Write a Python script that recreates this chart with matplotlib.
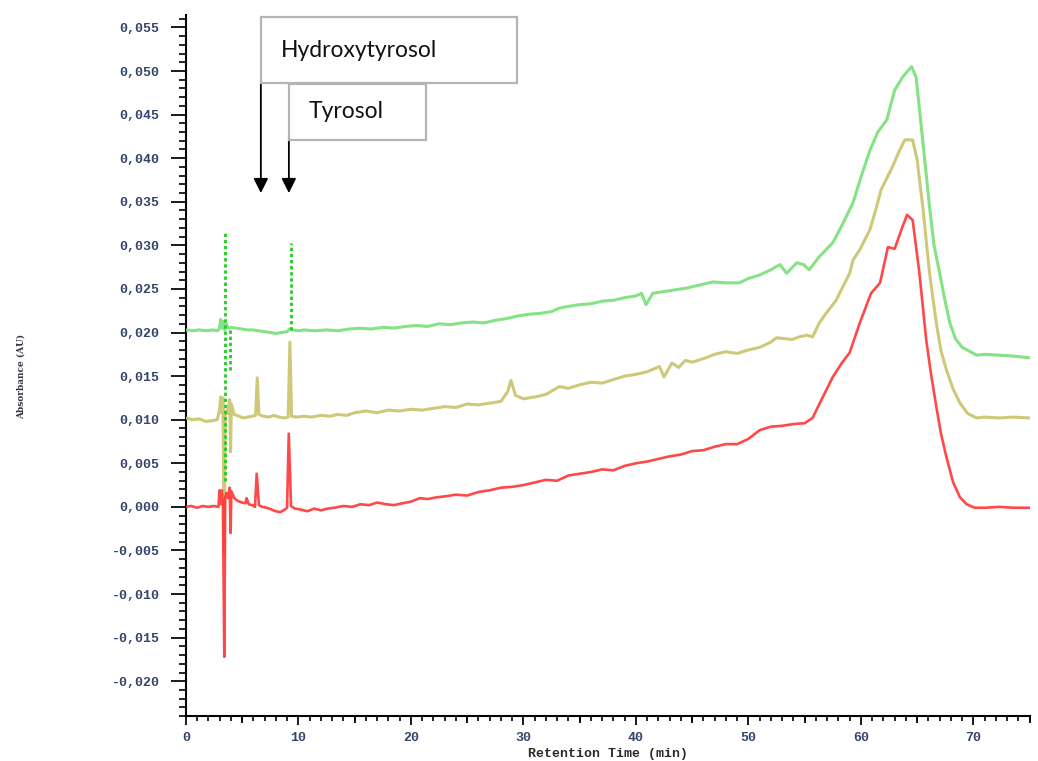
import matplotlib
matplotlib.use('Agg')
import matplotlib.pyplot as plt
from matplotlib.patches import Rectangle
from matplotlib.ticker import MultipleLocator, FuncFormatter

# chromatogram traces: retention time (min) and absorbance (AU)
red_x = [0.0, 0.5, 1.0, 1.5, 2.0, 2.5, 2.9, 3.0, 3.1, 3.2, 3.3, 3.42, 3.5, 3.6, 3.75, 3.9, 3.98, 4.05,
         4.3, 4.6, 5.0, 5.3, 5.4, 5.6, 5.9, 6.15, 6.3, 6.5, 6.8, 7.2, 7.6, 8.0, 8.4, 8.8, 9.0, 9.15, 9.35,
         9.7, 10.2, 10.8, 11.4, 12.0, 12.6, 13.2, 14.0, 14.8, 15.5, 16.3, 17.0, 17.8, 18.5, 19.2, 20.0,
         20.8, 21.5, 22.3, 23.0, 24.0, 25.0, 26.0, 27.0, 28.0, 29.0, 30.0, 31.0, 32.0, 33.0, 34.0, 35.0,
         36.0, 37.0, 38.0, 39.0, 40.0, 41.0, 42.0, 43.0, 44.0, 45.0, 46.0, 47.0, 48.0, 49.0, 50.0, 51.0,
         52.0, 53.0, 54.0, 55.0, 55.7, 56.5, 57.5, 58.3, 59.0, 59.9, 60.9, 61.7, 62.4, 63.0, 63.6, 64.1,
         64.6, 65.2, 65.8, 66.2, 66.7, 67.1, 67.6, 68.2, 68.8, 69.4, 70.1, 71.0, 72.3, 73.5, 75.0]
red_y = [0.0000, 0.0001, -0.0001, 0.0001, 0.0000, 0.0001, 0.0000, 0.0019, 0.0003, 0.0019, 0.0002,
         -0.0172, 0.0010, 0.0016, 0.0010, 0.0022, -0.0030, 0.0018, 0.0010, 0.0007, 0.0005, 0.0004,
         0.0010, 0.0003, 0.0002, 0.0000, 0.0038, 0.0002, 0.0000, -0.0001, -0.0003, -0.0005, -0.0006,
         -0.0003, -0.0001, 0.0084, 0.0001, -0.0002, -0.0003, -0.0005, -0.0002, -0.0004, -0.0002,
         -0.0001, 0.0001, 0.0000, 0.0003, 0.0002, 0.0005, 0.0003, 0.0002, 0.0004, 0.0006, 0.0010,
         0.0009, 0.0011, 0.0012, 0.0014, 0.0013, 0.0017, 0.0019, 0.0022, 0.0023, 0.0025, 0.0028,
         0.0031, 0.0030, 0.0036, 0.0038, 0.0040, 0.0043, 0.0042, 0.0047, 0.0050, 0.0052, 0.0055,
         0.0058, 0.0060, 0.0064, 0.0065, 0.0069, 0.0072, 0.0072, 0.0078, 0.0088, 0.0092, 0.0093,
         0.0095, 0.0096, 0.0102, 0.0123, 0.0149, 0.0165, 0.0177, 0.0211, 0.0245, 0.0257, 0.0298,
         0.0296, 0.0318, 0.0335, 0.0329, 0.0268, 0.0192, 0.0155, 0.0115, 0.0085, 0.0057, 0.0028,
         0.0011, 0.0003, -0.0001, -0.0001, 0.0000, -0.0001, -0.0001]

olive_x = [0.0, 0.6, 1.2, 1.8, 2.4, 2.8, 3.0, 3.1, 3.2, 3.3, 3.42, 3.5, 3.7, 3.9, 3.98, 4.05, 4.3, 4.7,
           5.1, 5.5, 5.9, 6.2, 6.35, 6.5, 6.9, 7.4, 7.8, 8.3, 8.8, 9.1, 9.25, 9.4, 9.8, 10.5, 11.2, 12.0,
           12.8, 13.5, 14.3, 15.0, 16.0, 17.0, 18.0, 19.0, 20.0, 21.0, 22.0, 23.0, 24.0, 25.0, 26.0,
           27.0, 28.0, 28.6, 28.9, 29.3, 30.0, 31.0, 32.0, 33.2, 34.0, 35.0, 36.0, 37.0, 38.0, 39.0,
           40.0, 41.0, 42.1, 42.5, 43.2, 43.8, 44.4, 45.0, 46.0, 47.0, 48.0, 49.0, 50.0, 51.0, 52.0,
           52.5, 53.2, 53.9, 54.5, 55.2, 55.7, 56.3, 56.9, 57.8, 58.1, 59.0, 59.3, 59.9, 60.8, 61.3,
           61.8, 62.8, 63.4, 63.9, 64.6, 65.0, 65.5, 66.1, 66.7, 67.1, 67.6, 68.2, 68.8, 69.5, 70.3,
           71.0, 72.3, 73.5, 75.0]
olive_y = [0.0102, 0.0100, 0.0101, 0.0098, 0.0099, 0.0100, 0.0112, 0.0126, 0.0108, 0.0125, -0.0053,
           0.0110, 0.0107, 0.0123, 0.0063, 0.0118, 0.0106, 0.0104, 0.0102, 0.0103, 0.0104, 0.0105,
           0.0148, 0.0106, 0.0104, 0.0103, 0.0105, 0.0103, 0.0102, 0.0103, 0.0189, 0.0104, 0.0103,
           0.0104, 0.0103, 0.0105, 0.0104, 0.0106, 0.0105, 0.0108, 0.0110, 0.0108, 0.0111, 0.0110,
           0.0112, 0.0111, 0.0113, 0.0115, 0.0114, 0.0118, 0.0117, 0.0119, 0.0121, 0.0132, 0.0145,
           0.0128, 0.0124, 0.0126, 0.0129, 0.0138, 0.0136, 0.0140, 0.0143, 0.0142, 0.0146, 0.0150,
           0.0152, 0.0155, 0.0161, 0.0149, 0.0165, 0.0160, 0.0168, 0.0166, 0.0170, 0.0175, 0.0178,
           0.0176, 0.0180, 0.0183, 0.0189, 0.0194, 0.0193, 0.0192, 0.0195, 0.0197, 0.0195, 0.0211,
           0.0222, 0.0237, 0.0245, 0.0268, 0.0283, 0.0295, 0.0318, 0.0340, 0.0364, 0.0390, 0.0408,
           0.0421, 0.0421, 0.0398, 0.0344, 0.0268, 0.0211, 0.0180, 0.0157, 0.0135, 0.0119, 0.0107,
           0.0102, 0.0103, 0.0102, 0.0103, 0.0102]

green_x = [0.0, 0.6, 1.2, 1.8, 2.4, 2.8, 3.0, 3.1, 3.2, 3.3, 3.45, 3.6, 3.8, 4.0, 4.5, 5.0, 5.5, 6.0,
           6.5, 7.0, 7.5, 8.0, 8.5, 9.0, 9.2, 9.5, 10.0, 10.5, 11.5, 12.5, 13.5, 14.5, 15.5, 16.5, 17.5,
           18.5, 19.5, 20.5, 21.5, 22.5, 23.5, 24.5, 25.5, 26.5, 27.5, 28.5, 29.5, 30.5, 31.5, 32.5,
           33.2, 34.0, 35.0, 36.0, 37.0, 38.0, 39.0, 40.0, 40.5, 40.9, 41.5, 42.5, 43.5, 44.5, 45.5,
           46.8, 48.0, 49.2, 50.0, 51.0, 52.0, 52.8, 53.4, 54.3, 54.9, 55.4, 56.3, 57.5, 58.4, 59.3,
           60.0, 60.8, 61.5, 62.3, 63.0, 63.7, 64.5, 64.9, 65.4, 66.1, 66.5, 67.0, 67.5, 67.9, 68.4,
           69.0, 70.3, 71.0, 72.3, 73.5, 75.0]
green_y = [0.0203, 0.0202, 0.0203, 0.0202, 0.0203, 0.0202, 0.0205, 0.0215, 0.0205, 0.0213, 0.0203,
           0.0210, 0.0205, 0.0206, 0.0205, 0.0204, 0.0203, 0.0203, 0.0202, 0.0201, 0.0200, 0.0199,
           0.0200, 0.0201, 0.0204, 0.0203, 0.0202, 0.0203, 0.0202, 0.0203, 0.0202, 0.0204, 0.0205,
           0.0204, 0.0206, 0.0205, 0.0207, 0.0208, 0.0207, 0.0210, 0.0209, 0.0211, 0.0212, 0.0211,
           0.0214, 0.0216, 0.0219, 0.0221, 0.0222, 0.0224, 0.0228, 0.0230, 0.0232, 0.0233, 0.0236,
           0.0237, 0.0240, 0.0242, 0.0245, 0.0232, 0.0245, 0.0247, 0.0249, 0.0251, 0.0254, 0.0258,
           0.0257, 0.0257, 0.0262, 0.0266, 0.0272, 0.0278, 0.0268, 0.0280, 0.0278, 0.0272, 0.0287,
           0.0303, 0.0325, 0.0349, 0.0378, 0.0409, 0.0430, 0.0444, 0.0478, 0.0493, 0.0505, 0.0493,
           0.0432, 0.0344, 0.0300, 0.0268, 0.0235, 0.0211, 0.0193, 0.0183, 0.0174, 0.0175, 0.0174,
           0.0173, 0.0171]

# sharp green spikes that the detector drew as dotted strokes
green_spike_x = [3.5, 3.95, 9.35]
green_spike_lo = [0.0030, 0.0157, 0.0203]
green_spike_hi = [0.0315, 0.0205, 0.0303]

# peak labels: name, retention time of the peak, box extent (x0, x1, y0, y1)
peak_names = ['Hydroxytyrosol', 'Tyrosol']
peak_times = [6.67, 9.16]
peak_boxes = [(6.67, 29.4, 0.0486, 0.0562), (9.16, 21.35, 0.0421, 0.0485)]
arrow_tip = 0.0360

fig = plt.figure(figsize=(10.38, 7.61), dpi=100)
ax = fig.add_axes([0.179, 0.059, 0.813, 0.921])

ax.plot(green_x, green_y, color='#78e078', lw=2.2, alpha=0.9, zorder=3)
ax.vlines(green_spike_x, green_spike_lo, green_spike_hi, colors='#22cc22',
          linestyles=(0, (1.2, 1.0)), lw=2.0, zorder=5)
ax.plot(olive_x, olive_y, color='#c8c36a', lw=2.2, alpha=0.9, zorder=3)
ax.plot(red_x, red_y, color='#ff3434', lw=1.9, alpha=0.9, zorder=4)

for name, t, (x0, x1, y0, y1) in zip(peak_names, peak_times, peak_boxes):
    ax.add_patch(Rectangle((x0, y0), x1 - x0, y1 - y0, fill=False,
                           edgecolor='#b4b4b4', lw=1.6, zorder=6))
    ax.text(x0 + 1.8, (y0 + y1) / 2, name, fontsize=16.5, family='Lato',
            va='center', ha='left', color='#111111', zorder=7)
    ax.annotate('', xy=(t, arrow_tip), xytext=(t, y0),
                arrowprops=dict(arrowstyle='-|>', color='black', lw=1.3,
                                mutation_scale=22, shrinkA=0, shrinkB=0))

ax.set_xlim(0, 75)
ax.set_ylim(-0.024, 0.0564)
ax.spines['top'].set_visible(False)
ax.spines['right'].set_visible(False)
ax.spines['left'].set_linewidth(1.5)
ax.spines['bottom'].set_linewidth(1.5)

ax.xaxis.set_major_locator(MultipleLocator(10))
ax.xaxis.set_minor_locator(MultipleLocator(1))
ax.yaxis.set_major_locator(MultipleLocator(0.005))
ax.yaxis.set_minor_locator(MultipleLocator(0.001))
ax.yaxis.set_major_formatter(FuncFormatter(lambda v, p: f'{v:.3f}'.replace('.', ',').replace('-0,000', '0,000')))

tick_font = dict(family='Liberation Mono', weight='bold', size=9.5)
ax.tick_params(axis='both', which='major', direction='out', width=1.4, colors='#1a1a1a',
               labelcolor='#34446a')
ax.tick_params(axis='y', which='major', length=11, pad=8)
ax.tick_params(axis='y', which='minor', length=5, width=1.2)
ax.tick_params(axis='x', which='major', length=6.5, pad=5)
ax.tick_params(axis='x', which='minor', length=3.5, width=1.2)
for lab in ax.get_xticklabels() + ax.get_yticklabels():
    lab.set(**tick_font)

# medium ticks at the half-decades of the time axis
sec = ax.secondary_xaxis('bottom')
sec.set_xticks(list(range(5, 76, 10)))
sec.tick_params(length=5, width=1.3, labelbottom=False)
sec.spines['bottom'].set_visible(False)

ax.set_xlabel('Retention Time (min)', fontdict=tick_font, color='#2a2a2a', labelpad=3)
fig.text(0.02, 0.505, 'Absorbance (AU)', rotation=90, va='center', ha='center',
         family='DejaVu Serif', weight='bold', fontsize=6.5, color='#334')

fig.savefig('out.png', dpi=100)
